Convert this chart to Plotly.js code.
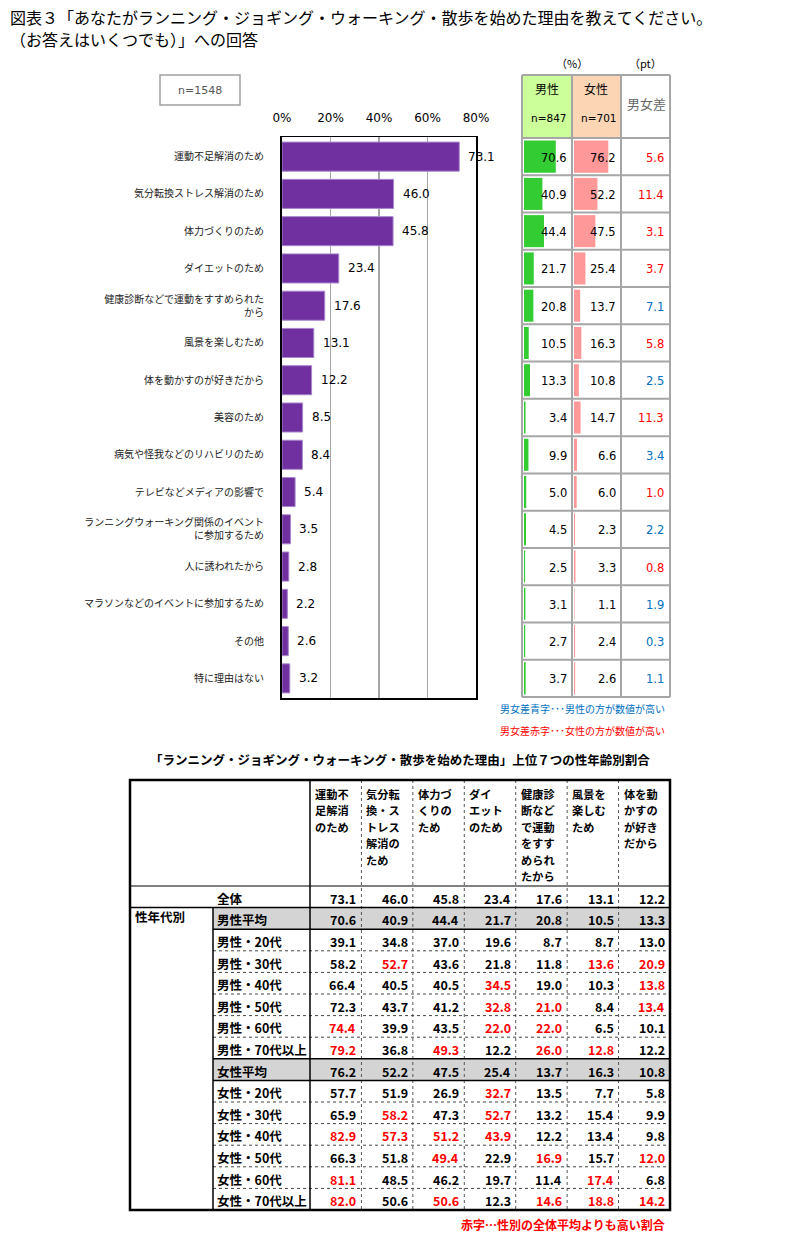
<!DOCTYPE html>
<html><head><meta charset="utf-8">
<script src="https://cdn.plot.ly/plotly-3.0.1.min.js"></script>
<style>html,body{margin:0;padding:0;background:#fff}#chart{width:810px;height:1258px}</style>
</head><body><div id="chart"></div>
<script>
// ---------- data ----------
const reasons = [
  '運動不足解消のため','気分転換ストレス解消のため','体力づくりのため','ダイエットのため',
  '健康診断などで運動をすすめられた<br>から','風景を楽しむため','体を動かすのが好きだから','美容のため',
  '病気や怪我などのリハビリのため','テレビなどメディアの影響で',
  'ランニングウォーキング関係のイベント<br>に参加するため','人に誘われたから',
  'マラソンなどのイベントに参加するため','その他','特に理由はない'];
const totalPct  = [73.1,46.0,45.8,23.4,17.6,13.1,12.2,8.5,8.4,5.4,3.5,2.8,2.2,2.6,3.2];
const malePct   = [70.6,40.9,44.4,21.7,20.8,10.5,13.3,3.4,9.9,5.0,4.5,2.5,3.1,2.7,3.7];
const femalePct = [76.2,52.2,47.5,25.4,13.7,16.3,10.8,14.7,6.6,6.0,2.3,3.3,1.1,2.4,2.6];
const gapPt     = [5.6,11.4,3.1,3.7,7.1,5.8,2.5,11.3,3.4,1.0,2.2,0.8,1.9,0.3,1.1];
const xTicks = [0,20,40,60,80];

const tableCols = ['運動不<br>足解消<br>のため','気分転<br>換・ス<br>トレス<br>解消の<br>ため','体力づ<br>くりの<br>ため',
  'ダイ<br>エット<br>のため','健康診<br>断など<br>で運動<br>をすす<br>められ<br>たから','風景を<br>楽しむ<br>ため','体を動<br>かすの<br>が好き<br>だから'];
const tableRows = ['全体','男性平均','男性・20代','男性・30代','男性・40代','男性・50代','男性・60代','男性・70代以上',
  '女性平均','女性・20代','女性・30代','女性・40代','女性・50代','女性・60代','女性・70代以上'];
const tableVals = [
  [73.1,46.0,45.8,23.4,17.6,13.1,12.2],
  [70.6,40.9,44.4,21.7,20.8,10.5,13.3],
  [39.1,34.8,37.0,19.6,8.7,8.7,13.0],
  [58.2,52.7,43.6,21.8,11.8,13.6,20.9],
  [66.4,40.5,40.5,34.5,19.0,10.3,13.8],
  [72.3,43.7,41.2,32.8,21.0,8.4,13.4],
  [74.4,39.9,43.5,22.0,22.0,6.5,10.1],
  [79.2,36.8,49.3,12.2,26.0,12.8,12.2],
  [76.2,52.2,47.5,25.4,13.7,16.3,10.8],
  [57.7,51.9,26.9,32.7,13.5,7.7,5.8],
  [65.9,58.2,47.3,52.7,13.2,15.4,9.9],
  [82.9,57.3,51.2,43.9,12.2,13.4,9.8],
  [66.3,51.8,49.4,22.9,16.9,15.7,12.0],
  [81.1,48.5,46.2,19.7,11.4,17.4,6.8],
  [82.0,50.6,50.6,12.3,14.6,18.8,14.2]];
const tableRed = [
  [0,0,0,0,0,0,0],[0,0,0,0,0,0,0],[0,0,0,0,0,0,0],
  [0,1,0,0,0,1,1],[0,0,0,1,0,0,1],[0,0,0,1,1,0,1],[1,0,0,1,1,0,0],[1,0,1,0,1,1,0],
  [0,0,0,0,0,0,0],[0,0,0,1,0,0,0],[0,1,0,1,0,0,0],[1,1,1,1,0,0,0],[0,0,1,0,1,0,1],[1,0,0,0,0,1,0],[1,0,1,0,1,1,1]];
const avgRows = [1,8];

// ---------- helpers ----------
const W=810,H=1258;
const X=p=>p/W, Y=p=>1-p/H;
const JP='Noto Sans CJK JP', NUM='DejaVu Sans';
const RED='#ff0000', BLUE='#0070c0';
const shapes=[], ann=[];
function ln(x0,y0,x1,y1,color,width,dash){shapes.push({type:'line',xref:'paper',yref:'paper',x0:X(x0),y0:Y(y0),x1:X(x1),y1:Y(y1),line:{color:color,width:width,dash:dash||'solid'}});}
function rect(x0,y0,x1,y1,fill,lc,lw){shapes.push({type:'rect',xref:'paper',yref:'paper',x0:X(x0),y0:Y(y0),x1:X(x1),y1:Y(y1),fillcolor:fill||'rgba(0,0,0,0)',line:{color:lc||'rgba(0,0,0,0)',width:lw||0},layer:'below'});}
function txt(x,y,t,o){ann.push(Object.assign({xref:'paper',yref:'paper',x:X(x),y:Y(y),text:t,showarrow:false,xanchor:'left',yanchor:'middle',font:{family:JP,size:12,color:'#000'}},o||{}));}

// ---------- titles ----------
txt(8,17,'図表３「あなたがランニング・ジョギング・ウォーキング・散歩を始めた理由を教えてください。',{font:{family:JP,size:16,color:'#000'}});
txt(8,39,'（お答えはいくつでも）」への回答',{font:{family:JP,size:16,color:'#000'}});

// n box
rect(160,75,240,105,'#fff','#a0a0a0',1.5);
txt(200,90,'n=1548',{xanchor:'center',font:{family:NUM,size:11,color:'#555'}});

// ---------- bar chart geometry ----------
const PL=282, PR=476, PT=137, PB=698;
const MX0=522, MX1=572, FX1=621, DX1=670, HT=75;
const pxPerPct=0.45;
const m2max=(MX1-524)/pxPerPct, f3max=(FX1-574)/pxPerPct;

reasons.forEach((r,i)=>{
  ann.push({xref:'x',yref:'y',x:totalPct[i],y:r,text:totalPct[i].toFixed(1),showarrow:false,xanchor:'left',yanchor:'middle',xshift:7,font:{family:NUM,size:12,color:'#000'}});
  ann.push({xref:'x2',yref:'y',x:m2max,y:r,text:malePct[i].toFixed(1),showarrow:false,xanchor:'right',yanchor:'middle',xshift:-3,yshift:-1,font:{family:NUM,size:11.5,color:'#000'}});
  ann.push({xref:'x3',yref:'y',x:f3max,y:r,text:femalePct[i].toFixed(1),showarrow:false,xanchor:'right',yanchor:'middle',xshift:-3,yshift:-1,font:{family:NUM,size:11.5,color:'#000'}});
  ann.push({xref:'paper',yref:'y',x:X(DX1-4),y:r,text:gapPt[i].toFixed(1),showarrow:false,xanchor:'right',yanchor:'middle',yshift:-1,font:{family:NUM,size:11.5,color:femalePct[i]>malePct[i]?RED:BLUE}});
});

// mini table header
rect(MX0,HT,MX1,PT,'#ccff99');
rect(MX1,HT,FX1,PT,'#fcd5b4');
txt(547,89,'男性',{xanchor:'center',font:{family:JP,size:12,color:'#000'}});
txt(596,89,'女性',{xanchor:'center',font:{family:JP,size:12,color:'#000'}});
txt(569,118,'n=847',{xanchor:'right',font:{family:NUM,size:10.5,color:'#000'}});
txt(619,118,'n=701',{xanchor:'right',font:{family:NUM,size:10.5,color:'#000'}});
txt(646,104,'男女差',{xanchor:'center',font:{family:JP,size:13,color:'#666'}});
txt(572,63,'（%）',{xanchor:'center',font:{family:JP,size:11,color:'#000'}});
txt(645,63,'（pt）',{xanchor:'center',font:{family:JP,size:11,color:'#000'}});
const GC='#a6a6a6';
[MX0,MX1,FX1,DX1].forEach(x=>ln(x,HT,x,PB-1,GC,2));
ln(MX0,HT,DX1,HT,GC,2);
for(let i=0;i<=reasons.length;i++){
  shapes.push({type:'line',xref:'paper',yref:'y',x0:X(MX0),x1:X(DX1),y0:i-0.5,y1:i-0.5,line:{color:GC,width:2}});
}
txt(667,708,'男女差青字･･･男性の方が数値が高い',{xanchor:'right',font:{family:JP,size:10,color:BLUE}});
txt(667,730,'男女差赤字･･･女性の方が数値が高い',{xanchor:'right',font:{family:JP,size:10,color:RED}});

// ---------- bottom table ----------
const TL=130,TR=670,TT=780,HB=886,TB=1210,LC=213,DC=310;
const RH=(TB-HB)/tableRows.length, CW=(TR-DC)/tableCols.length, LH=16.4;
txt(400,759,'「ランニング・ジョギング・ウォーキング・散歩を始めた理由」上位７つの性年齢別割合',{xanchor:'center',font:{family:JP,size:12.5,color:'#000',weight:'bold'}});
avgRows.forEach(r=>rect(LC,HB+r*RH,TR,HB+(r+1)*RH,'#d4d4d4'));
tableCols.forEach((c,k)=>{
  c.split('<br>').forEach((part,j)=>{
    txt(DC+k*CW+3,794+j*LH,part,{font:{family:JP,size:11.2,color:'#000',weight:'bold'}});
  });
  if(k>0) ln(DC+k*CW,TT,DC+k*CW,TB,'#555',1,'dot');
});
tableRows.forEach((lab,r)=>{
  const cy=HB+(r+0.5)*RH+1.5;
  txt(LC+2,cy,lab,{font:{family:JP,size:12.5,color:'#000',weight:'bold'}});
  tableVals[r].forEach((v,k)=>{
    txt(DC+(k+1)*CW-3,cy,v.toFixed(1),{xanchor:'right',font:{family:JP,size:12.5,color:tableRed[r][k]?RED:'#000',weight:'bold'}});
  });
  const top=HB+r*RH;
  if(r===0) ln(TL,top,TR,top,'#000',1);
  else if(r===1) ln(TL,top,TR,top,'#000',1.5);
  else if(avgRows.includes(r)||avgRows.includes(r-1)) ln(LC,top,TR,top,'#000',1.5);
  else ln(LC,top,TR,top,'#444',1,'dot');
});
txt(TL+3,HB+1.5*RH-2,'性年代別',{font:{family:JP,size:12.5,color:'#000',weight:'bold'}});
ln(LC,HB+RH,LC,TB,'#000',1.5);
ln(DC,TT,DC,TB,'#000',1.5);
shapes.push({type:'rect',xref:'paper',yref:'paper',x0:X(TL),y0:Y(TT),x1:X(TR),y1:Y(TB),line:{color:'#000',width:2.5}});
txt(667,1224,'赤字…性別の全体平均よりも高い割合',{xanchor:'right',font:{family:JP,size:12,color:RED,weight:'bold'}});

// ---------- traces ----------
const traces=[
  {type:'bar',orientation:'h',x:totalPct,y:reasons,xaxis:'x',yaxis:'y',width:0.78,
   marker:{color:'#7030a0',line:{color:'#a886cc',width:1}},hoverinfo:'none'},
  {type:'bar',orientation:'h',x:malePct,y:reasons,xaxis:'x2',yaxis:'y',width:0.86,
   marker:{color:'#33cc33'},hoverinfo:'none'},
  {type:'bar',orientation:'h',x:femalePct,y:reasons,xaxis:'x3',yaxis:'y',width:0.86,
   marker:{color:'#ff9999'},hoverinfo:'none'}
];
const layout={
  width:W,height:H,margin:{l:0,r:0,t:0,b:0},paper_bgcolor:'#fff',plot_bgcolor:'rgba(0,0,0,0)',
  showlegend:false,barmode:'overlay',
  xaxis:{domain:[X(PL),X(PR)],range:[0,80],side:'top',tickvals:xTicks,ticktext:xTicks.map(v=>v+'%'),
    showgrid:true,gridcolor:'#a6a6a6',gridwidth:1.5,zeroline:false,showline:true,mirror:true,linecolor:'#000',linewidth:1.5,
    ticks:'',ticklabelstandoff:9,tickfont:{family:NUM,size:12,color:'#000'},fixedrange:true},
  yaxis:{domain:[Y(PB),Y(PT)],type:'category',autorange:'reversed',showgrid:false,zeroline:false,
    showline:true,mirror:true,linecolor:'#000',linewidth:2,ticks:'',ticklabelstandoff:14,
    tickfont:{family:JP,size:10,color:'#222'},fixedrange:true},
  xaxis2:{domain:[X(524),X(MX1)],range:[0,m2max],visible:false,anchor:'y',fixedrange:true},
  xaxis3:{domain:[X(574),X(FX1)],range:[0,f3max],visible:false,anchor:'y',fixedrange:true},
  shapes:shapes,annotations:ann
};
Plotly.newPlot('chart',traces,layout,{displayModeBar:false,staticPlot:true});
</script></body></html>
